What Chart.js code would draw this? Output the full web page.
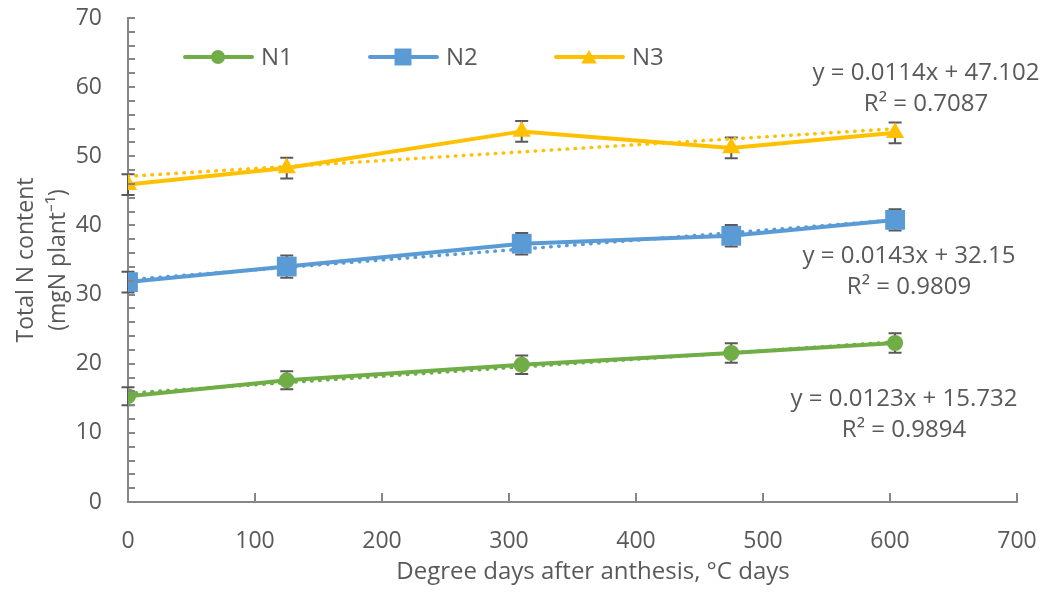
<!DOCTYPE html>
<html>
<head>
<meta charset="utf-8">
<script src="https://cdn.jsdelivr.net/npm/chart.js@4/dist/chart.umd.min.js"></script>
<style>
  html, body { margin: 0; padding: 0; background: #fff; }
  #wrap { width: 1050px; height: 596px; }
</style>
</head>
<body>
<div id="wrap"><canvas id="nChart" width="1050" height="596"></canvas></div>
<script>
// degree days after anthesis (sampling dates)
const degreeDays = [0, 125, 310, 475, 604];

// total N content per plant, mean and error
const n1Values = [15.3, 17.6, 19.85, 21.55, 23.0];
const n2Values = [31.8, 34.05, 37.35, 38.5, 40.8];
const n3Values = [45.9, 48.3, 53.6, 51.2, 53.4];
const n1Err = [1.3, 1.3, 1.35, 1.4, 1.4];
const n2Err = [1.5, 1.6, 1.55, 1.55, 1.55];
const n3Err = [1.5, 1.5, 1.5, 1.5, 1.5];

// linear trend fits (slope, intercept, R²)
const trendSlope = [0.0123, 0.0143, 0.0114];
const trendIntercept = [15.732, 32.15, 47.102];
const trendR2 = ["0.9894", "0.9809", "0.7087"];

const seriesNames = ["N1", "N2", "N3"];
const xTicks = [0, 100, 200, 300, 400, 500, 600, 700];
const yTicks = [0, 10, 20, 30, 40, 50, 60, 70];
const xTitle = "Degree days after anthesis, \u00B0C days";
const yTitle = ["Total N content", "(mgN plant\u207B\u00B9)"];

const COLORS = ["#70AD47", "#5B9BD5", "#FFC000"];
const MARKERS = ["circle", "rect", "triangle"];
const MARKER_R = [8, 14, 10.5];
const TEXT = "#595959";
const AXIS = "#868686";
const FONT = "'Open Sans', sans-serif";

const allValues = [n1Values, n2Values, n3Values];
const allErr = [n1Err, n2Err, n3Err];

const toPoints = ys => degreeDays.map((x, i) => ({ x, y: ys[i] }));
const lastX = degreeDays[degreeDays.length - 1];

const mainSets = allValues.map((ys, i) => ({
  label: seriesNames[i],
  data: toPoints(ys),
  borderColor: COLORS[i],
  backgroundColor: COLORS[i],
  borderWidth: 4,
  pointStyle: MARKERS[i],
  pointRadius: MARKER_R[i],
  pointBorderWidth: 0,
  order: 1,
}));

// dotted trendlines from the fitted equations
const trendSets = trendSlope.map((m, i) => ({
  label: seriesNames[i] + " trend",
  data: [
    { x: 0, y: trendIntercept[i] },
    { x: lastX, y: trendIntercept[i] + m * lastX },
  ],
  borderColor: COLORS[i],
  borderWidth: 3.5,
  borderDash: [0.5, 7.5],
  borderCapStyle: "round",
  pointRadius: 0,
  order: 5,
}));

// error bars, drawn under the markers
const errorBars = {
  id: "errorBars",
  beforeDatasetsDraw(chart) {
    const { ctx } = chart;
    const ys = chart.scales.y;
    ctx.save();
    ctx.strokeStyle = TEXT;
    ctx.lineWidth = 2;
    allValues.forEach((vals, di) => {
      const meta = chart.getDatasetMeta(di);
      meta.data.forEach((pt, j) => {
        const top = ys.getPixelForValue(vals[j] + allErr[di][j]);
        const bot = ys.getPixelForValue(vals[j] - allErr[di][j]);
        ctx.beginPath();
        ctx.moveTo(pt.x, top);
        ctx.lineTo(pt.x, bot);
        ctx.moveTo(pt.x - 6.5, top);
        ctx.lineTo(pt.x + 6.5, top);
        ctx.moveTo(pt.x - 6.5, bot);
        ctx.lineTo(pt.x + 6.5, bot);
        ctx.stroke();
      });
    });
    ctx.restore();
  },
};

// tick marks pointing into the plot (minor every 2 on y)
const innerTicks = {
  id: "innerTicks",
  afterDraw(chart) {
    const { ctx, chartArea: a } = chart;
    const xs = chart.scales.x, ys = chart.scales.y;
    ctx.save();
    ctx.strokeStyle = AXIS;
    ctx.lineWidth = 2;
    ctx.beginPath();
    for (let v = 0; v <= 70; v += 2) {
      const y = Math.round(ys.getPixelForValue(v));
      ctx.moveTo(a.left, y);
      ctx.lineTo(a.left + 7, y);
    }
    for (let v = 100; v <= 700; v += 100) {
      const x = Math.round(xs.getPixelForValue(v));
      ctx.moveTo(x, a.bottom);
      ctx.lineTo(x, a.bottom - 9);
    }
    ctx.stroke();
    ctx.restore();
  },
};

// legend with line + marker, x title and the fit equations
const overlay = {
  id: "overlay",
  afterDraw(chart) {
    const { ctx } = chart;
    ctx.save();
    const legendX = [185, 370, 556];
    const ly = 57;
    ctx.font = "24px " + FONT;
    ctx.textBaseline = "middle";
    seriesNames.forEach((name, i) => {
      const x0 = legendX[i];
      ctx.strokeStyle = COLORS[i];
      ctx.lineWidth = 4;
      ctx.lineCap = "round";
      ctx.beginPath();
      ctx.moveTo(x0, ly);
      ctx.lineTo(x0 + 67, ly);
      ctx.stroke();
      ctx.fillStyle = COLORS[i];
      Chart.helpers.drawPoint(ctx, {
        pointStyle: MARKERS[i],
        radius: [7, 12, 9][i],
        borderWidth: 0,
      }, x0 + 33, ly + (i === 2 ? 2 : 0));
      ctx.fillStyle = TEXT;
      ctx.textAlign = "left";
      ctx.fillText(name, x0 + 76, ly + 1);
    });

    ctx.textAlign = "center";
    ctx.fillText(xTitle, 593, 572);

    const eqPos = [
      { x: 904, y: 399 },
      { x: 909, y: 256 },
      { x: 926, y: 73 },
    ];
    trendSlope.forEach((m, i) => {
      const p = eqPos[i];
      ctx.fillText("y = " + m + "x + " + trendIntercept[i], p.x, p.y);
      ctx.fillText("R\u00B2 = " + trendR2[i], p.x, p.y + 31);
    });
    ctx.restore();
  },
};

new Chart(document.getElementById("nChart"), {
  type: "line",
  data: { datasets: [...mainSets, ...trendSets] },
  plugins: [errorBars, innerTicks, overlay],
  options: {
    responsive: false,
    animation: false,
    events: [],
    layout: { padding: { left: 0, right: 33, top: 18, bottom: 0 } },
    plugins: {
      legend: { display: false },
      tooltip: { enabled: false },
    },
    scales: {
      x: {
        type: "linear",
        min: 0,
        max: 700,
        afterBuildTicks: s => { s.ticks = xTicks.map(v => ({ value: v })); },
        grid: { display: false, drawTicks: false },
        border: { color: AXIS, width: 2 },
        ticks: { color: TEXT, padding: 26, font: { family: FONT, size: 23 } },
        afterFit: s => {
          s.height = 94;
          s.paddingLeft = 0;
          s.paddingRight = 0;
        },
      },
      y: {
        min: 0,
        max: 70,
        afterBuildTicks: s => { s.ticks = yTicks.map(v => ({ value: v })); },
        grid: { display: false, drawTicks: false },
        border: { color: AXIS, width: 2 },
        ticks: { color: TEXT, padding: 26, font: { family: FONT, size: 23 } },
        title: {
          display: true,
          text: yTitle,
          color: TEXT,
          font: { family: FONT, size: 23, lineHeight: 1.4 },
          padding: { top: 10, bottom: 0 },
        },
        afterFit: s => {
          s.width = 128;
          s.paddingTop = 0;
          s.paddingBottom = 0;
        },
      },
    },
  },
});
</script>
</body>
</html>
